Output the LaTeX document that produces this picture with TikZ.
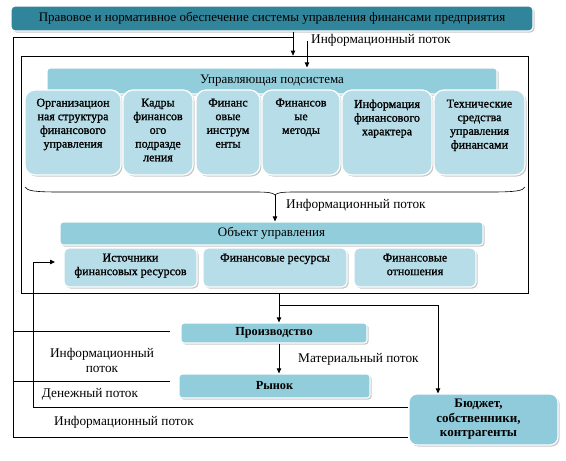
\documentclass[tikz,border=0pt]{standalone}
\usepackage{fontspec}
\setmainfont{LiberationSerif}[Extension=.ttf,UprightFont=*-Regular,BoldFont=*-Bold,ItalicFont=*-Italic,BoldItalicFont=*-BoldItalic]
\newfontfamily\semibold{LiberationSerif-Regular.ttf}[FakeBold=1.2]
\usetikzlibrary{shadows,arrows.meta}
\definecolor{topc}{RGB}{49,133,155}
\definecolor{headc}{RGB}{146,205,220}
\definecolor{subc}{RGB}{183,222,232}
\definecolor{budc}{RGB}{143,203,219}
\tikzset{
  shd/.style={drop shadow={shadow xshift=1.5pt,shadow yshift=-1.5pt,fill=black!40,opacity=0.55}},
  topbox/.style={draw=white,line width=1.2pt,fill=topc,rounded corners=4pt,shd,inner sep=0pt},
  headbox/.style={draw=white,line width=1.2pt,fill=headc,rounded corners=3pt,shd,inner sep=0pt},
  subbox/.style={draw=white,line width=1.2pt,fill=subc,rounded corners=10pt,shd,inner sep=0pt},
  smallbox/.style={draw=white,line width=1.2pt,fill=subc,rounded corners=5pt,shd,inner sep=0pt},
  budbox/.style={draw=white,line width=1.2pt,fill=budc,rounded corners=8pt,shd,inner sep=0pt,align=center,font=\fontsize{13}{14.5}\selectfont\bfseries},
  subtext/.style={anchor=north,align=center,inner sep=0pt,font=\semibold\fontsize{12}{13.7}\selectfont},
  lab/.style={inner sep=0pt,align=center,font=\fontsize{13.3}{15}\selectfont},
  arr/.style={line width=0.75pt,-{Triangle[length=5pt,width=4.5pt]}},
  ln/.style={line width=0.75pt},
}
\begin{document}
\begin{tikzpicture}[x=1pt,y=-1pt,font=\fontsize{13}{14}\selectfont]
\useasboundingbox (0,0) rectangle (566,461);
% frame of the system
\node[draw,line width=0.75pt,minimum width=507pt,minimum height=237pt,inner sep=0pt] (inner) at (274.5,174.5) {};
% top box
\node[topbox,minimum width=522pt,minimum height=25pt] (top) at (272,18.5) {Правовое и нормативное обеспечение системы управления финансами предприятия};
% managing subsystem
\node[headbox,minimum width=450pt,minimum height=26pt] (uh) at (272,81) {Управляющая подсистема};
\node[subbox,minimum width=96pt,minimum height=85pt] (s1) at (73,132.5) {};
\node[subbox,minimum width=70pt,minimum height=85pt] (s2) at (158,132.5) {};
\node[subbox,minimum width=64pt,minimum height=85pt] (s3) at (228,132.5) {};
\node[subbox,minimum width=78pt,minimum height=85pt] (s4) at (301,132.5) {};
\node[subbox,minimum width=90pt,minimum height=85pt] (s5) at (387,132.5) {};
\node[subbox,minimum width=91pt,minimum height=85pt] (s6) at (479.5,132.5) {};
\node[subtext] (t1) at ([yshift=-9pt]s1.north) {Организацион\\ная структура\\финансового\\управления};
\node[subtext] (t2) at ([yshift=-9pt]s2.north) {Кадры\\финансов\\ого\\подразде\\ления};
\node[subtext] (t3) at ([yshift=-9pt]s3.north) {Финанс\\овые\\инструм\\енты};
\node[subtext] (t4) at ([yshift=-9pt]s4.north) {Финансов\\ые\\методы};
\node[subtext] (t5) at ([yshift=-10pt]s5.north) {Информация\\финансового\\характера};
\node[subtext] (t6) at ([yshift=-10pt]s6.north) {Технические\\средства\\управления\\финансами};
% brace
\draw[line width=0.6pt] (25,187) .. controls (27,191) and (35,192) .. (60,192) -- (255,192) .. controls (270,192) and (273,193) .. (275,195) .. controls (277,193) and (280,192) .. (295,192) -- (490,192) .. controls (515,192) and (523,191) .. (525,187);
% object of management
\node[headbox,minimum width=423pt,minimum height=23pt] (obj) at (271.5,233.5) {Объект управления};
\node[smallbox,minimum width=133pt,minimum height=39pt] (o1) at (130.5,267.5) {};
\node[smallbox,minimum width=144pt,minimum height=39pt] (o2) at (275,267.5) {};
\node[smallbox,minimum width=122pt,minimum height=39pt] (o3) at (415,267.5) {};
\node[subtext] (u1) at ([yshift=-6pt]o1.north) {Источники\\финансовых ресурсов};
\node[subtext] (u2) at ([yshift=-6pt]o2.north) {Финансовые ресурсы};
\node[subtext] (u3) at ([yshift=-6pt]o3.north) {Финансовые\\отношения};
% lower boxes
\node[headbox,minimum width=186pt,minimum height=20pt,font=\fontsize{12.3}{14}\selectfont\bfseries] (prod) at (274,333) {Производство};
\node[headbox,minimum width=191pt,minimum height=24pt,font=\fontsize{12.3}{14}\selectfont\bfseries] (ryn) at (274.5,386) {Рынок};
\node[budbox,minimum width=149pt,minimum height=51pt] (bud) at (483.5,419.5) {\hspace*{-10pt}Бюджет,\\\hspace*{-10pt}собственники,\\\hspace*{-10pt}контрагенты};
% connectors
\coordinate (xa) at (293,0);
\coordinate (L1) at (13,37);
\coordinate (L2) at (13,437);
\draw[arr] (top.south -| xa) -- (inner.north -| xa);
\draw[ln] (xa |- L1) -- (L1) -- (L2) -- (bud.west |- L2);
\coordinate (c2) at (307,41);
\draw[arr] (c2) -- (c2 |- uh.north);
\node[lab,anchor=west] (lab1) at (311,40) {Информационный поток};
\coordinate (bt) at (275,195);
\draw[arr] (bt) -- (bt |- obj.north);
\node[lab,anchor=west] (lab2) at (286,205) {Информационный поток};
\coordinate (xp) at (279,0);
\draw[arr] (inner.south -| xp) -- (prod.north -| xp);
\coordinate (br) at (279,305);
\coordinate (bx) at (438,305);
\draw[arr] (br) -- (bx) -- (bx |- bud.north);
\draw[arr] (prod.south -| xp) -- (ryn.north -| xp);
\node[lab,anchor=west] (lab3) at (298,359) {Материальный поток};
\coordinate (p1) at (13,331);
\coordinate (p1e) at (170,331);
\draw[ln] (p1) -- (p1e);
\coordinate (p2) at (13,381);
\coordinate (p2e) at (170,381);
\draw[ln] (p2) -- (p2e);
\coordinate (m1) at (33,407);
\coordinate (m2) at (33,262);
\coordinate (m3) at (55,262);
\draw[arr] (bud.west |- m1) -- (m1) -- (m2) -- (m3);
\node[lab] (lab4) at (102,360.5) {Информационный\\поток};
\node[lab] (lab5) at (90,394) {Денежный поток};
\node[lab] (lab6) at (124,422) {Информационный поток};
\end{tikzpicture}
\end{document}
